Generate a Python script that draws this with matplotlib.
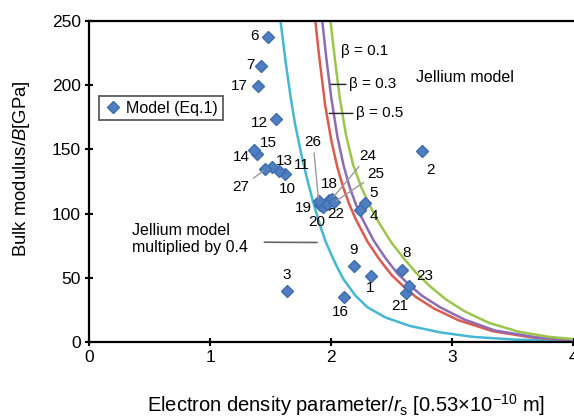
import matplotlib
matplotlib.use("Agg")
import matplotlib.pyplot as plt

plt.rcParams['font.family'] = ['Liberation Sans', 'DejaVu Sans']
plt.rcParams['mathtext.fontset'] = 'custom'
plt.rcParams['mathtext.it'] = 'Liberation Sans:italic'
plt.rcParams['mathtext.rm'] = 'Liberation Sans'

# model points, numbered 1..27
pt_ids = list(range(1, 28))
pt_rs = [2.324, 2.753, 1.635, 2.241, 2.277, 1.478, 1.418, 2.585, 2.186, 1.616,
         1.569, 1.542, 1.506, 1.385, 1.360, 2.106, 1.396, 1.985, 1.905, 1.935,
         2.615, 1.965, 2.642, 2.005, 2.025, 1.895, 1.455]
pt_B = [51.3, 148.8, 39.9, 102.6, 108.6, 237.4, 214.6, 56.0, 59.3, 130.6,
        133.2, 174.0, 136.3, 146.2, 149.5, 34.8, 199.3, 110.5, 106.5, 104.8,
        38.3, 107.5, 43.5, 111.5, 109.0, 109.5, 134.5]

# jellium model curves
jel04_rs = [1.58, 1.62, 1.66, 1.70, 1.75, 1.80, 1.85, 1.90, 1.95, 2.00, 2.05,
            2.10, 2.20, 2.30, 2.45, 2.65, 2.90, 3.17, 3.53, 4.00]
jel04_B = [250, 220, 193, 170, 147, 127, 109, 93, 79, 68, 58,
           49, 36, 27, 19, 12.5, 7.5, 4, 1.8, 0.8]

b05_rs = [1.868, 1.90, 1.95, 2.00, 2.05, 2.10, 2.15, 2.20, 2.30, 2.40, 2.50,
          2.60, 2.70, 2.85, 3.05, 3.33, 3.66, 4.00]
b05_B = [250, 222, 184, 157, 136, 120, 107, 96, 78, 64, 52,
         43, 35, 26, 17, 8.5, 3.5, 1.3]

b03_rs = [1.925, 1.96, 2.00, 2.05, 2.10, 2.15, 2.20, 2.25, 2.35, 2.45, 2.55,
          2.65, 2.75, 2.90, 3.10, 3.35, 3.70, 4.00]
b03_B = [250, 220, 190, 160, 138, 121, 108, 97, 79, 65, 53,
         44, 36, 27, 17.5, 9, 3.6, 1.4]

b01_rs = [1.993, 2.03, 2.07, 2.12, 2.18, 2.25, 2.32, 2.40, 2.50, 2.60, 2.70,
          2.82, 2.95, 3.10, 3.30, 3.55, 3.80, 4.00]
b01_B = [250, 220, 190, 162, 138, 120, 106, 92, 77, 65, 54,
         43, 33, 24, 15, 8, 4, 2.3]

# label offsets in points (dx, dy) relative to each marker
label_off = {1: (0, -8.5), 2: (6, -14), 3: (0, 11.5), 4: (10, -4), 5: (6, 7),
             6: (-9.5, 1), 7: (-7.5, 1), 8: (3, 12), 9: (0, 11.5), 10: (2, -10.5),
             11: (16, 4), 12: (-12, -3), 13: (9, 4.5), 14: (-11.5, -2), 15: (10.5, 5),
             16: (-3, -10.5), 17: (-13.5, 0), 18: (0, 11.5), 19: (-11.5, -2), 20: (-5, -10.5),
             21: (-4, -9.5), 22: (6.5, -7.5), 23: (11.5, 7), 24: (26, 31), 25: (30, 20),
             26: (-4, 43), 27: (-17.5, -13)}
leader_ids = [24, 25, 26, 27]

fig = plt.figure(figsize=(5.74, 4.18), dpi=100)
ax = fig.add_axes([0.1556, 0.1818, 0.8432, 0.768])

ax.plot(jel04_rs, jel04_B, color='#45b7d3', lw=1.8, zorder=2)
ax.plot(b05_rs, b05_B, color='#dc5a4f', lw=1.8, zorder=2)
ax.plot(b03_rs, b03_B, color='#8d6cb4', lw=1.8, zorder=2)
ax.plot(b01_rs, b01_B, color='#9cc54e', lw=1.8, zorder=2)

ax.plot(pt_rs, pt_B, 'D', color='#4f7fc0', mec='#3e6cac', ms=6.5, lw=0,
        label='Model (Eq.1)', zorder=4)

for i, x, y in zip(pt_ids, pt_rs, pt_B):
    dx, dy = label_off[i]
    if i in leader_ids:
        ax.annotate(str(i), (x, y), xytext=(dx, dy), textcoords='offset points',
                    ha='center', va='center', fontsize=11,
                    arrowprops=dict(arrowstyle='-', color='#9a9a9a', lw=1,
                                    shrinkA=1, shrinkB=2), zorder=5)
    else:
        ax.annotate(str(i), (x, y), xytext=(dx, dy), textcoords='offset points',
                    ha='center', va='center', fontsize=11, zorder=5)

ax.text(2.078, 227, 'β = 0.1', fontsize=11, va='center', ha='left')
ax.annotate('β = 0.3', (1.996, 200.6), xytext=(2.144, 200.6), fontsize=11,
            va='center', ha='left',
            arrowprops=dict(arrowstyle='-', color='#222222', lw=1, shrinkA=0, shrinkB=0))
ax.annotate('β = 0.5', (1.982, 178), xytext=(2.202, 178), fontsize=11,
            va='center', ha='left',
            arrowprops=dict(arrowstyle='-', color='#222222', lw=1, shrinkA=0, shrinkB=0))
ax.text(2.704, 206.3, 'Jellium model', fontsize=11.5, va='center', ha='left')
ax.annotate('Jellium model\nmultiplied by 0.4', (1.883, 77.5), xytext=(0.35, 80.5),
            fontsize=11.5, va='center', ha='left', linespacing=1.15,
            arrowprops=dict(arrowstyle='-', color='#666666', lw=1.2,
                            shrinkA=10, shrinkB=0, relpos=(1, 0.39)))

leg = ax.legend(loc='upper left', bbox_to_anchor=(0.02, 0.767), fontsize=11.5,
                frameon=True, fancybox=False, handletextpad=0.3,
                borderpad=0.3, handlelength=1.1, borderaxespad=0)
leg.get_frame().set_edgecolor('#333333')
leg.get_frame().set_linewidth(1.3)

ax.set_xlim(0, 4)
ax.set_ylim(0, 250)
ax.set_xticks([0, 1, 2, 3, 4])
ax.set_yticks([0, 50, 100, 150, 200, 250])
ax.tick_params(direction='inout', length=6, width=1.5, labelsize=12.5, pad=3)
ax.spines['right'].set_visible(False)
for s in ['left', 'bottom', 'top']:
    ax.spines[s].set_linewidth(1.6)

fig.text(346 / 574, 1 - 405 / 418,
         r'Electron density parameter/$r_{\mathrm{s}}$ [0.53$\times$10$^{-10}$ m]',
         ha='center', va='center', fontsize=14.5)
fig.text(22 / 574, 1 - 169 / 418, r'Bulk modulus/$B$[GPa]', rotation=90,
         ha='center', va='center', fontsize=13.3)

fig.savefig('out.png', dpi=100)
